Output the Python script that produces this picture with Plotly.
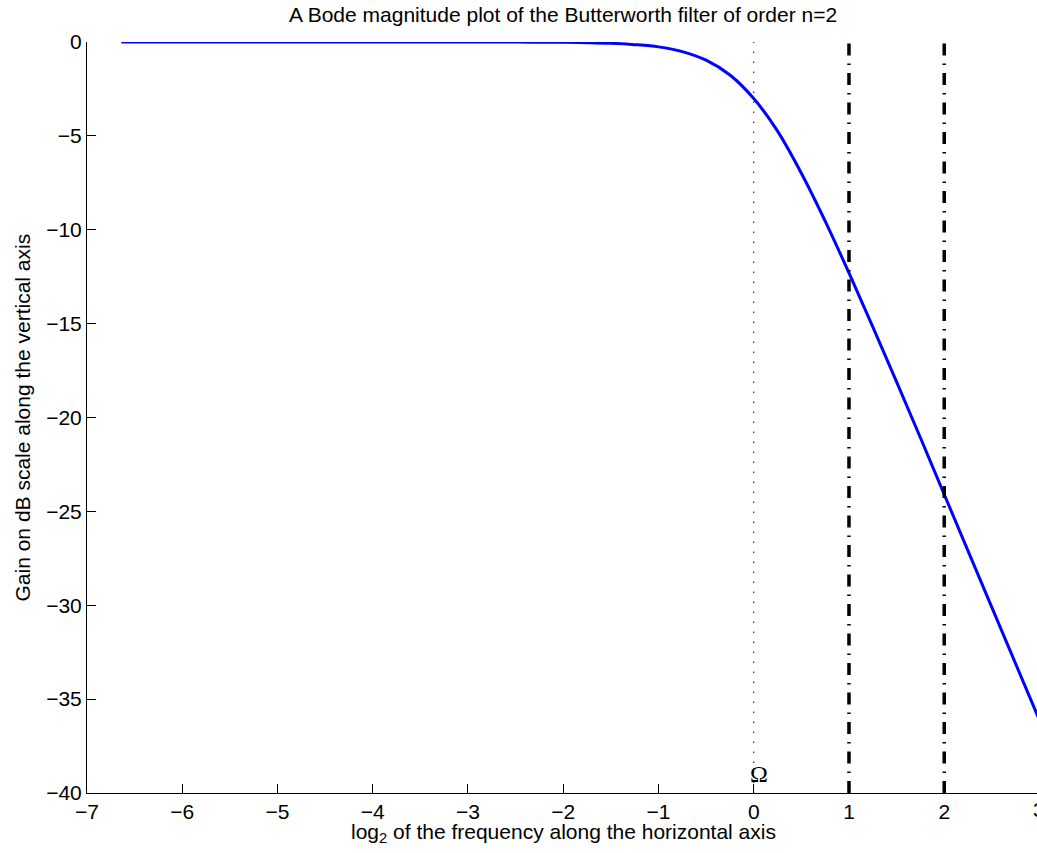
import plotly.graph_objects as go

# log2 frequency and gain (dB)
log2_freq = [-6.64, -6.0, -5.0, -4.0, -3.0, -2.5, -2.0, -1.75, -1.5, -1.25, -1.0, -0.75,
             -0.5, -0.25, 0.0, 0.25, 0.5, 0.75, 1.0, 1.25, 1.5, 1.75, 2.0, 2.5, 3.0]
gain_db = [0.00, 0.00, 0.00, 0.00, -0.001, -0.004, -0.017, -0.035, -0.07, -0.14, -0.26, -0.51,
           -0.97, -1.76, -3.01, -4.75, -6.99, -9.54, -12.30, -15.17, -18.10, -21.08, -24.10,
           -30.11, -36.13]

cutoff_x = [0]
marker_x = [1, 2]
y_span = [-40, 0]
omega_pos = (0, -39)

x_ticks = [-7, -6, -5, -4, -3, -2, -1, 0, 1, 2, 3]
y_ticks = [-40, -35, -30, -25, -20, -15, -10, -5, 0]

FONT = "Liberation Sans, Arial, Helvetica, sans-serif"
FS = 21


def lab(v):
    return ("\u2212" + str(-v)) if v < 0 else str(v)


fig = go.Figure()
fig.add_trace(go.Scatter(x=log2_freq, y=gain_db, mode="lines",
                         line=dict(color="#0000ff", width=3, shape="spline"),
                         showlegend=False, hoverinfo="skip"))
for cx in cutoff_x:
    fig.add_trace(go.Scatter(x=[cx, cx], y=y_span, mode="lines",
                             line=dict(color="#000000", width=1, dash="1.5px,8.5px"),
                             showlegend=False, hoverinfo="skip"))
for mx in marker_x:
    fig.add_trace(go.Scatter(x=[mx, mx], y=y_span, mode="lines",
                             line=dict(color="#000000", width=3.5, dash="12px,8px,1.5px,8px"),
                             showlegend=False, hoverinfo="skip"))

x_end = 2.974
fig.update_layout(
    width=1037, height=853,
    margin=dict(l=86.5, r=0, t=41.7, b=60.3, pad=0),
    plot_bgcolor="white", paper_bgcolor="white",
    font=dict(family=FONT, size=FS, color="black"),
    xaxis=dict(range=[-7, x_end], tickvals=x_ticks, ticktext=[lab(v) for v in x_ticks],
               ticks="inside", ticklen=9, tickcolor="black", tickwidth=1,
               showline=True, linecolor="black", linewidth=1, mirror=False,
               showgrid=False, zeroline=False, tickfont=dict(size=FS)),
    yaxis=dict(range=[-40, 0], tickvals=y_ticks, ticktext=[lab(v) for v in y_ticks],
               ticks="inside", ticklen=9, tickcolor="black", tickwidth=1,
               showline=True, linecolor="black", linewidth=1, mirror=False,
               showgrid=False, zeroline=False, tickfont=dict(size=FS)),
)

fig.add_annotation(x=omega_pos[0], y=omega_pos[1], xref="x", yref="y", text="Ω",
                   showarrow=False, xanchor="left", yanchor="middle", xshift=-6,
                   font=dict(family="Liberation Serif, Times New Roman, serif", size=24, color="black"))
# partially visible tick label at x=3 (beyond the window edge)
fig.add_annotation(x=(3 + 7) / (x_end + 7), y=0, xref="paper", yref="paper", text=lab(3),
                   showarrow=False, xanchor="center", yanchor="top", yshift=-3,
                   font=dict(size=FS))
fig.add_annotation(x=-2, y=1, xref="x", yref="paper", yshift=28,
                   text="A Bode magnitude plot of the Butterworth filter of order n=2",
                   showarrow=False, xanchor="center", yanchor="middle", font=dict(size=FS))
fig.add_annotation(x=-2, y=0, xref="x", yref="paper", yshift=-40,
                   text="log<sub>2</sub> of the frequency along the horizontal axis",
                   showarrow=False, xanchor="center", yanchor="middle", font=dict(size=FS))
fig.add_annotation(x=0, y=0.5, xref="paper", yref="paper", xshift=-65,
                   text="Gain on dB scale along the vertical axis", textangle=-90,
                   showarrow=False, xanchor="center", yanchor="middle", font=dict(size=FS))

fig.write_html("out.html")
